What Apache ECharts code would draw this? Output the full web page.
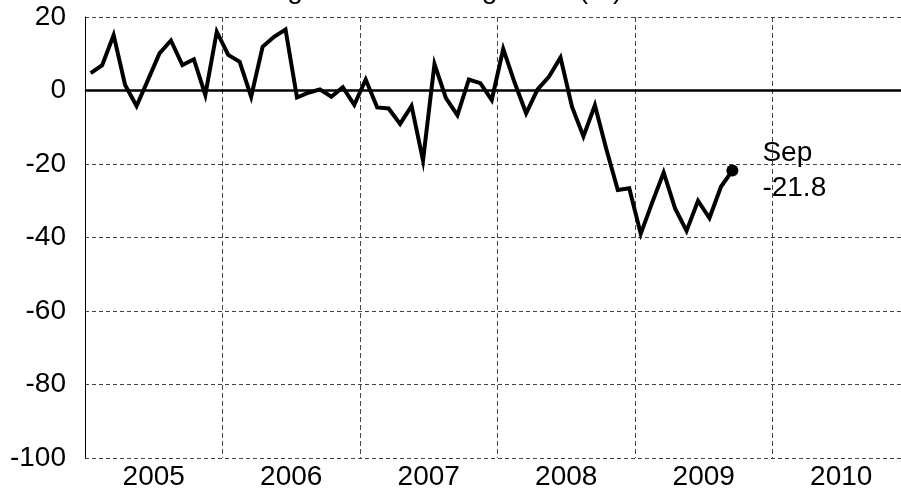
<!DOCTYPE html>
<html>
<head>
<meta charset="utf-8">
<title>Housing Starts – Change YoY (%)</title>
<script src="https://cdn.jsdelivr.net/npm/echarts@6/dist/echarts.min.js"></script>
<style>
  html, body { margin: 0; padding: 0; background: #fff; overflow: hidden; }
  /* the plot frame runs a little past the right edge of the window */
  #chart { width: 910px; height: 491px; }
</style>
</head>
<body>
<div id="chart"></div>
<script>
// Year buckets shown along the bottom axis
const years = ['2005', '2006', '2007', '2008', '2009', '2010'];

// Monthly readings, January 2005 through September 2009
const values2005 = [4.7, 6.9, 15.1, 1.5, -4.2, 2.9, 10.1, 13.6, 6.9, 8.5, -1.2, 16.0];
const values2006 = [9.7, 7.8, -1.7, 11.9, 14.6, 16.6, -1.9, -0.6, 0.3, -1.7, 0.9, -3.9];
const values2007 = [3.0, -4.6, -4.9, -9.1, -4.2, -19.0, 7.2, -2.1, -6.7, 3.0, 2.0, -2.6];
const values2008 = [11.3, 2.1, -6.2, 0.3, 3.8, 9.0, -4.4, -12.5, -4.0, -16.0, -27.1, -26.6];
const values2009 = [-39.0, -30.5, -22.3, -32.1, -38.2, -30.0, -34.7, -26.2, -21.8];

// Vertical scale
const yMin = -100;
const yMax = 20;
const yStep = 20;

const monthNames = ['Jan', 'Feb', 'Mar', 'Apr', 'May', 'Jun', 'Jul', 'Aug', 'Sep', 'Oct', 'Nov', 'Dec'];

// One slot per month over the full six-year span
const months = [];
years.forEach(y => monthNames.forEach(m => months.push(m + ' ' + y)));

const series = [].concat(values2005, values2006, values2007, values2008, values2009);
const lastIdx = series.length - 1;

const font = 'Arial, "Liberation Sans", Helvetica, sans-serif';
const fontSize = 28;

const lineData = series.map((v, i) => {
  if (i !== lastIdx) return v;
  // latest reading: dot plus month / value callout
  return {
    value: v,
    symbol: 'circle',
    symbolSize: 12,
    itemStyle: { color: '#000' },
    label: {
      show: true,
      position: 'right',
      distance: 24,
      align: 'left',
      fontFamily: font,
      fontSize: fontSize,
      lineHeight: 35,
      color: '#000',
      formatter: p => monthNames[p.dataIndex % 12] + '\n' + p.value.toFixed(1)
    }
  };
});

const chart = echarts.init(document.getElementById('chart'), null, { renderer: 'canvas' });

chart.setOption({
  animation: false,
  backgroundColor: '#fff',
  graphic: [{
    type: 'text',
    left: 200,
    top: -24,
    style: {
      text: 'Housing Starts – Change YoY (%)',
      font: fontSize + 'px ' + font,
      fill: '#000'
    }
  }],
  grid: { left: 85, right: 0, top: 17, bottom: 33, containLabel: false },
  xAxis: [
    {
      type: 'category',
      data: years,
      boundaryGap: true,
      axisLine: { show: true, lineStyle: { color: '#999', width: 1 } },
      axisTick: { show: false },
      axisLabel: { fontFamily: font, fontSize: fontSize, color: '#000', margin: 5 },
      splitLine: { show: true, lineStyle: { color: '#444', width: 1, type: [5, 3] } }
    },
    {
      type: 'category',
      data: months,
      boundaryGap: true,
      show: false
    }
  ],
  yAxis: {
    type: 'value',
    min: yMin,
    max: yMax,
    interval: yStep,
    axisLine: { show: true, onZero: false, lineStyle: { color: '#000', width: 1 } },
    axisTick: { show: false },
    axisLabel: { fontFamily: font, fontSize: fontSize, color: '#000', margin: 19 },
    splitLine: { show: true, lineStyle: { color: '#444', width: 1, type: [4, 3] } }
  },
  series: [{
    type: 'line',
    xAxisIndex: 1,
    data: lineData,
    symbol: 'none',
    showSymbol: true,
    lineStyle: { color: '#000', width: 4, join: 'miter', miterLimit: 10 },
    itemStyle: { color: '#000' },
    emphasis: { disabled: true },
    markLine: {
      silent: true,
      symbol: 'none',
      label: { show: false },
      lineStyle: { color: '#000', width: 2.5, type: 'solid' },
      data: [{ yAxis: 0 }]
    },
    z: 5
  }]
});
</script>
</body>
</html>
